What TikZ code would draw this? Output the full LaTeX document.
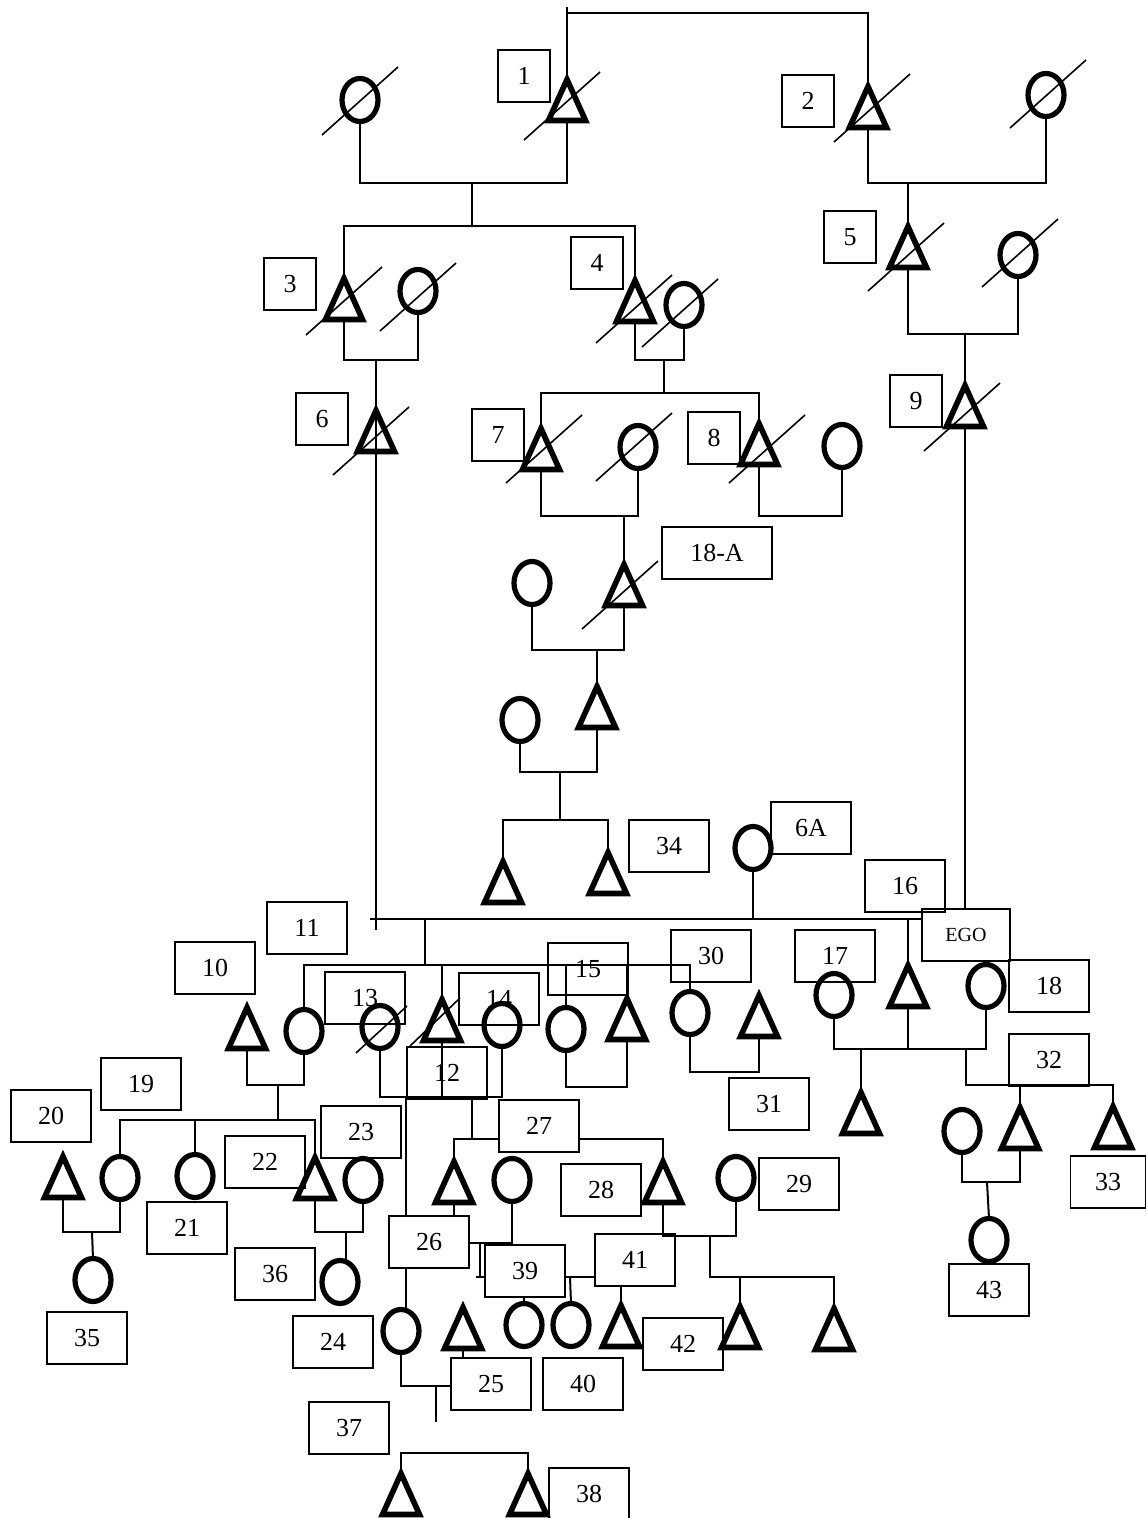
\documentclass[tikz,border=0pt]{standalone}
\usepackage{fontspec}
\setmainfont{Liberation Serif}
\usetikzlibrary{shapes.geometric}

\tikzset{
  kin/.style={line width=2pt},
  slot/.style={inner sep=0pt, outer sep=0pt, minimum width=37pt, minimum height=41pt},
  sym/.style={line width=5.6pt, line join=miter},
  fem/.style={draw, ellipse, line width=5.2pt, inner sep=0pt, outer sep=0pt,
    minimum width=36pt, minimum height=43pt},
  slash/.style={line width=1.6pt},
  tag/.style={draw, line width=1.4pt, minimum width=80pt, minimum height=52pt,
    inner sep=0pt, font=\fontsize{26}{30}\selectfont},
  onedigit/.style={minimum width=52pt}
}

% men are triangles, women are ellipses
\newcommand{\Man}[3]{%
  \node[slot] (#1) at (#2,#3) {};
  \draw[sym] (#1.north) -- (#1.south east) -- (#1.south west) -- cycle;}
\newcommand{\Woman}[3]{\node[fem] (#1) at (#2,#3) {};}
% deceased: a stroke through the symbol
\newcommand{\Gone}[4][76,-68]{\draw[slash] ([shift={(#3,#4)}]#2.center) -- ++(#1);}

\begin{document}
\begin{tikzpicture}[x=1pt,y=-1pt]
  \useasboundingbox (0,0) rectangle (1146,1518);

  % first generations
  \Woman{w1}{360}{100}
  \Man{n1}{567}{100}
  \Man{n2}{868}{107}
  \Woman{w2}{1046}{95}
  \Man{n3}{344}{299}
  \Woman{w3}{418}{291}
  \Man{n4}{635}{301}
  \Woman{w4}{684}{305}
  \Man{n5}{908}{247}
  \Woman{w5}{1018}{255}
  \Man{n6}{376}{431}
  \Man{n7}{541}{449}
  \Woman{w7}{638}{447}
  \Man{n8}{759}{444}
  \Woman{w8}{842}{446}
  \Man{n9}{965}{406}
  \Man{n18a}{624}{585}
  \Woman{w18a}{532}{583}
  \Man{g1}{597}{707}
  \Woman{wg1}{520}{720}
  \Man{n34a}{503}{882}
  \Man{n34}{608}{873}
  \Woman{n6a}{753}{848}

  % ego's generation
  \Man{n10}{247}{1028}
  \Woman{n11}{304}{1031}
  \Woman{n13}{380}{1027}
  \Man{n12}{442}{1020}
  \Woman{n14}{502}{1025}
  \Woman{n15}{566}{1029}
  \Man{h15}{627}{1019}
  \Woman{n30}{690}{1013}
  \Man{n31}{759}{1016}
  \Woman{n17}{834}{995}
  \Man{ego}{908}{986}
  \Woman{n18}{986}{986}

  % children
  \Man{s17}{861}{1113}
  \Woman{w32}{962}{1131}
  \Man{n32}{1020}{1128}
  \Man{n33}{1113}{1127}
  \Woman{n43}{989}{1240}
  \Man{n20}{63}{1177}
  \Woman{n19}{120}{1178}
  \Woman{n21}{195}{1176}
  \Man{n22}{315}{1178}
  \Woman{n23}{363}{1180}
  \Woman{n35}{93}{1280}
  \Woman{n36}{340}{1282}
  \Man{n26}{454}{1182}
  \Woman{w26}{512}{1180}
  \Man{n28}{663}{1182}
  \Woman{n29}{736}{1178}
  \Woman{n24}{401}{1331}
  \Man{n25}{463}{1328}
  \Woman{n39}{524}{1325}
  \Woman{n40}{571}{1325}
  \Man{n41}{621}{1326}
  \Man{n42}{740}{1327}
  \Man{n42b}{834}{1329}
  \Man{n37}{401}{1494}
  \Man{n38}{528}{1494}

  \Gone{w1}{-38}{35}
  \Gone{n1}{-43}{40}
  \Gone{n2}{-34}{35}
  \Gone{w2}{-36}{33}
  \Gone{n3}{-38}{36}
  \Gone{w3}{-38}{40}
  \Gone{n4}{-39}{42}
  \Gone{w4}{-42}{42}
  \Gone{n5}{-40}{44}
  \Gone{w5}{-36}{32}
  \Gone{n6}{-43}{44}
  \Gone{n7}{-35}{34}
  \Gone{w7}{-42}{34}
  \Gone{n8}{-30}{39}
  \Gone{n9}{-41}{45}
  \Gone{n18a}{-42}{44}
  \Gone[51,-47]{n13}{-24}{26}
  \Gone[50,-48]{n12}{-32}{26}

  % number boxes
  \node[tag,onedigit] (b1) at (524,76) {1};
  \node[tag,onedigit] (b2) at (808,101) {2};
  \node[tag,onedigit] (b3) at (290,284) {3};
  \node[tag,onedigit] (b4) at (597,263) {4};
  \node[tag,onedigit] (b5) at (850,237) {5};
  \node[tag,onedigit] (b6) at (322,419) {6};
  \node[tag,onedigit] (b7) at (498,435) {7};
  \node[tag,onedigit] (b8) at (714,438) {8};
  \node[tag,onedigit] (b9) at (916,401) {9};
  \node[tag,minimum width=110pt] (b18a) at (717,553) {18-A};
  \node[tag] (b34) at (669,846) {34};
  \node[tag] (b6a) at (811,828) {6A};
  \node[tag] (b16) at (905,886) {16};
  \node[tag,minimum width=88pt,font=\fontsize{20}{24}\selectfont] (bego) at (966,935) {EGO};
  \node[tag] (b10) at (215,968) {10};
  \node[tag] (b11) at (307,928) {11};
  \node[tag] (b13) at (365,998) {13};
  \node[tag] (b14) at (499,999) {14};
  \node[tag] (b15) at (588,969) {15};
  \node[tag] (b30) at (711,956) {30};
  \node[tag] (b17) at (835,956) {17};
  \node[tag] (b18) at (1049,986) {18};
  \node[tag] (b12) at (447,1073) {12};
  \node[tag] (b31) at (769,1104) {31};
  \node[tag] (b32) at (1049,1060) {32};
  \node[tag] (b19) at (141,1084) {19};
  \node[tag] (b20) at (51,1116) {20};
  \node[tag] (b21) at (187,1228) {21};
  \node[tag] (b22) at (265,1162) {22};
  \node[tag] (b23) at (361,1132) {23};
  \node[tag] (b36) at (275,1274) {36};
  \node[tag] (b35) at (87,1338) {35};
  \node[tag] (b24) at (333,1342) {24};
  \node[tag] (b27) at (539,1126) {27};
  \node[tag] (b28) at (601,1190) {28};
  \node[tag] (b29) at (799,1184) {29};
  \node[tag] (b26) at (429,1242) {26};
  \node[tag] (b39) at (525,1271) {39};
  \node[tag] (b41) at (635,1260) {41};
  \node[tag] (b42) at (683,1344) {42};
  \node[tag] (b25) at (491,1384) {25};
  \node[tag] (b40) at (583,1384) {40};
  \node[tag] (b37) at (349,1428) {37};
  \node[tag] (b38) at (589,1494) {38};
  \node[tag] (b43) at (989,1290) {43};
  \node[tag,minimum width=75pt] (b33) at (1108,1182) {33};

  % descent and marriage lines, top down
  \coordinate (top) at (717,13);
  \draw[kin] (n1.north) -- (n1.north |- top) -- ++(0,-6);
  \draw[kin] (n1.north |- top) -| (n2.north);

  \coordinate (m1) at (472,183);
  \draw[kin] (w1.south) |- (m1) -| (n1.south);
  \coordinate (s1) at (472,226);
  \draw[kin] (m1) -- (s1);
  \draw[kin] (n3.north) |- (s1) -| (n4.north);

  \coordinate (m2) at (908,183);
  \draw[kin] (n2.south) |- (m2) -| (w2.south);
  \draw[kin] (m2) -- (n5.north);

  \coordinate (m3) at (376,360);
  \draw[kin] (n3.south) |- (m3) -| (w3.south);
  \coordinate (t6) at (376,930);
  \draw[kin] (m3) -- (t6);

  \coordinate (m4) at (664,360);
  \draw[kin] (n4.south) |- (m4) -| (w4.south);
  \coordinate (s4) at (664,393);
  \draw[kin] (m4) -- (s4);
  \draw[kin] (n7.north) |- (s4) -| (n8.north);

  \coordinate (m5) at (965,334);
  \draw[kin] (n5.south) |- (m5) -| (w5.south);
  \draw[kin] (m5) -- (n9.north);
  \draw[kin] (n9.south) -- (n9.south |- bego.north);

  \coordinate (m7) at (624,516);
  \draw[kin] (n7.south) |- (m7) -| (w7.south);
  \draw[kin] (m7) -- (n18a.north);
  \coordinate (m8) at (800,516);
  \draw[kin] (n8.south) |- (m8) -| (w8.south);

  \coordinate (m18) at (597,650);
  \draw[kin] (w18a.south) |- (m18) -| (n18a.south);
  \draw[kin] (m18) -- (g1.north);
  \coordinate (mg) at (560,772);
  \draw[kin] (wg1.south) |- (mg) -| (g1.south);
  \coordinate (s34) at (560,820);
  \draw[kin] (mg) -- (s34);
  \draw[kin] (n34a.north) |- (s34) -| (n34.north);

  % the long line across to ego
  \coordinate (tr) at (370,919);
  \draw[kin] (tr) -- (tr -| bego.west);
  \draw[kin] (n6a.south) -- (n6a.south |- tr);
  \draw[kin] (ego.north) -- (ego.north |- tr);
  \coordinate (s11) at (425,965);
  \draw[kin] (s11 |- tr) -- (s11);
  \draw[kin] (n11.north) |- (s11) -| (n30.north);
  \draw[kin] (n12.north) -- (n12.north |- s11);
  \draw[kin] (n15.north) -- (n15.north |- s11);
  \draw[kin] (h15.north) -- (h15.north |- s11);
  \coordinate (m15) at (596,1087);
  \draw[kin] (n15.south) |- (m15) -| (h15.south);

  \coordinate (m10) at (278,1085);
  \draw[kin] (n10.south) |- (m10) -| (n11.south);
  \coordinate (s19) at (278,1120);
  \draw[kin] (m10) -- (s19);
  \draw[kin] (n19.north) |- (s19) -| (n22.north);
  \draw[kin] (n21.north) -- (n21.north |- s19);
  \coordinate (m20) at (92,1232);
  \draw[kin] (n20.south) |- (m20) -| (n19.south);
  \draw[kin] (m20) -- (n35.north);
  \coordinate (m22) at (346,1232);
  \draw[kin] (n22.south) |- (m22) -| (n23.south);
  \draw[kin] (m22) -- (m22 |- n36.north);

  \coordinate (m13) at (406,1097);
  \draw[kin] (n13.south) |- (m13) -| (n14.south);
  \draw[kin] (n12.south) -- (n12.south |- m13);
  \draw[kin] (m13) -- (m13 |- b26.north);
  \draw[kin] (m13 |- b26.south) -- (m13 |- n24.north);
  \coordinate (m14) at (472,1097);
  \coordinate (s27) at (472,1139);
  \draw[kin] (m14) -- (s27);
  \draw[kin] (n26.north) |- (s27) -- (s27 -| b27.west);
  \draw[kin] (s27 -| b27.east) -| (n28.north);
  \draw[kin] (n26.south) -- (n26.south |- b26.north);
  \coordinate (m26) at (512,1243);
  \draw[kin] (b26.east |- m26) -- (m26) -- (w26.south);
  \coordinate (k26) at (480,1277);
  \draw[kin] (k26 |- m26) -- (k26) ++(-4,0) -- ++(8,0);

  \coordinate (m39) at (570,1277);
  \draw[kin] (b39.east |- m39) -- (b41.west |- m39);
  \draw[kin] (m39) -- (n40.north);
  \draw[kin] (n39.north) -- (n39.north |- b39.south);
  \draw[kin] (n41.north) -- (n41.north |- b41.south);
  \coordinate (m28) at (710,1236);
  \draw[kin] (n28.south) |- (m28) -| (n29.south);
  \coordinate (s42) at (710,1277);
  \draw[kin] (m28) -- (s42) -| (n42b.north);
  \draw[kin] (n42.north) -- (n42.north |- s42);

  \coordinate (m24) at (436,1386);
  \draw[kin] (n24.south) |- (m24) -- (m24 -| b25.west);
  \draw[kin] (n25.south) -- (n25.south |- b25.north);
  \draw[kin] (m24) -- ++(0,36);
  \coordinate (s37) at (466,1453);
  \draw[kin] (n37.north) |- (s37) -| (n38.north);

  % right-hand families
  \coordinate (m30) at (725,1072);
  \draw[kin] (n30.south) |- (m30) -| (n31.south);
  \coordinate (m17) at (908,1049);
  \draw[kin] (n17.south) |- (m17) -| (n18.south);
  \draw[kin] (ego.south) -- (m17);
  \draw[kin] (s17.north) -- (s17.north |- m17);
  \coordinate (s32) at (966,1085);
  \draw[kin] (s32 |- m17) -- (s32) -| (n33.north);
  \draw[kin] (n32.north) -- (n32.north |- s32);
  \coordinate (m32) at (987,1182);
  \draw[kin] (w32.south) |- (m32) -| (n32.south);
  \draw[kin] (m32) -- (n43.north);
\end{tikzpicture}
\end{document}
